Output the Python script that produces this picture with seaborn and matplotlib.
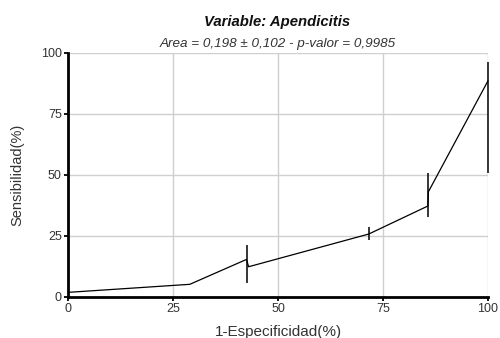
import matplotlib
matplotlib.use("Agg")
import matplotlib.pyplot as plt
import seaborn as sns
import pandas as pd

# ROC curve points
fpr = [0, 29.0, 42.5, 43.0, 71.6, 85.7, 85.8, 100]
tpr = [1.8, 5.1, 15.3, 12.3, 25.7, 37.2, 43.0, 88.5]

# vertical confidence bars
bar_x = [42.5, 71.6, 85.7, 100]
bar_lo = [5.5, 23.2, 32.5, 50.8]
bar_hi = [21.2, 28.4, 50.6, 96.0]

ticks = [0, 25, 50, 75, 100]
title = "Variable: Apendicitis"
subtitle = "Area = 0,198 ± 0,102 - p-valor = 0,9985"
xlabel = "1-Especificidad(%)"
ylabel = "Sensibilidad(%)"

sns.set_style("white")
plt.rcParams['font.family'] = ['Liberation Sans', 'DejaVu Sans']

fig = plt.figure(figsize=(5.0, 3.38), dpi=100)
ax = fig.add_axes([0.136, 0.122, 0.840, 0.722])

df = pd.DataFrame({"x": fpr, "y": tpr})
sns.lineplot(data=df, x="x", y="y", sort=False, estimator=None,
             color="black", linewidth=0.9, ax=ax, zorder=3)
for ln in ax.lines:
    ln.set_clip_on(False)
ax.vlines(bar_x, bar_lo, bar_hi, color="black", linewidth=1.1, zorder=3,
          clip_on=False)

ax.set_xlim(0, 100)
ax.set_ylim(0, 100)
ax.set_xticks(ticks)
ax.set_yticks(ticks)
ax.grid(True, color="#cfcfcf", linewidth=1.0)
ax.set_axisbelow(True)

for s in ["top", "right"]:
    ax.spines[s].set_visible(False)
for s in ["left", "bottom"]:
    ax.spines[s].set_color("black")
    ax.spines[s].set_linewidth(2.0)

ax.tick_params(axis="both", which="major", length=3, width=1.3,
               color="black", labelsize=9, pad=1.5, direction="out",
               bottom=True, left=True, labelcolor="#333333")

ax.set_xlabel(xlabel, fontsize=11, color="#333333", labelpad=7)
ax.set_ylabel(ylabel, fontsize=10.5, color="#333333", labelpad=12)

fig.text(0.555, 0.935, title, ha="center", va="center", fontsize=10.7,
         fontweight="bold", fontstyle="italic", color="#111111")
fig.text(0.555, 0.870, subtitle, ha="center", va="center", fontsize=9.7,
         fontstyle="italic", color="#333333")

fig.savefig("out.png", dpi=100)
